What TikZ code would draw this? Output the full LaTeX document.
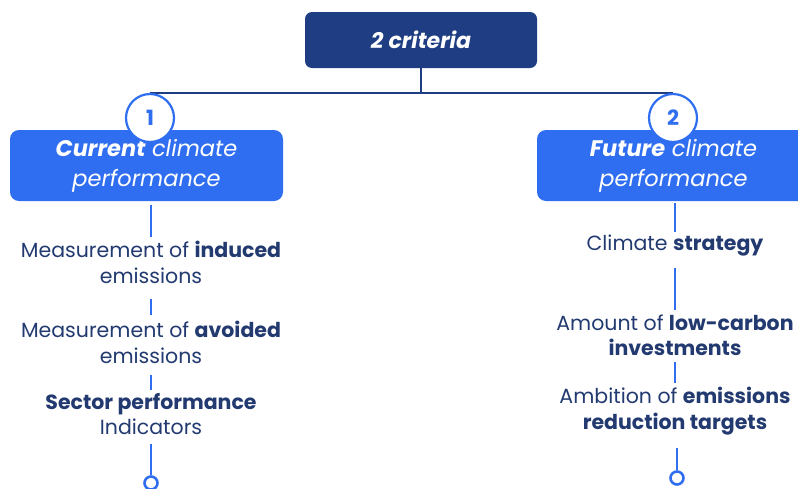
\documentclass[tikz,border=0pt]{standalone}
\usepackage{fontspec}
\setmainfont{Poppins}
\definecolor{navy}{HTML}{1E3D82}
\definecolor{txt}{HTML}{223A70}
\definecolor{bright}{HTML}{2F6EF0}
\tikzset{
  topbox/.style={fill=navy, rounded corners=7pt, minimum width=232pt, minimum height=56pt, text=white, font=\fontsize{22}{26}\selectfont\bfseries\itshape},
  catbox/.style={fill=bright, rounded corners=9pt, minimum width=273pt, minimum height=71pt, text=white, align=center, font=\fontsize{22.5}{30}\selectfont\itshape},
  numcirc/.style={circle, draw=bright, line width=2.2pt, fill=white, minimum size=48pt, inner sep=0pt, text=bright, font=\fontsize{21}{24}\selectfont\bfseries},
  item/.style={align=center, text=txt, inner sep=0pt, font=\fontsize{20.5}{25.5}\selectfont},
  vline/.style={draw=bright, line width=2.6pt},
  hline/.style={draw=navy, line width=2.6pt},
  endcirc/.style={circle, draw=bright, line width=2.6pt, fill=white, minimum size=13pt, inner sep=0pt}
}
\begin{document}
\begin{tikzpicture}[x=1pt,y=-1pt]
\useasboundingbox (0,0) rectangle (798,488);
\begin{scope}
\clip (0,0) rectangle (798,488);
% top
\node[topbox] (top) at (421,40) {2 criteria};
\coordinate (hl) at (150,93);
\coordinate (hr) at (673,93);
\draw[hline] (top.south) -- (top.south |- hl);
\draw[hline] (hl) -- (hr);
% category boxes
\node[catbox] (cur) at (146.5,165.5) {\textbf{Current} climate\\performance};
\node[catbox] (fut) at (673.5,165.5) {\textbf{Future} climate\\performance};
\node[numcirc] (n1) at (150,118) {1};
\node[numcirc] (n2) at (673,118) {2};
% left items
\node[item] (l1) at (151,262.5) {Measurement of \textbf{induced}\\emissions};
\node[item] (l2) at (151,342.5) {Measurement of \textbf{avoided}\\emissions};
\node[item] (l3) at (151,414) {\textbf{Sector performance}\\Indicators};
\node[endcirc] (le) at (151,483) {};
% right items
\node[item] (r1) at (675,246) {Climate \textbf{strategy}};
\node[item] (r2) at (675,335) {Amount of \textbf{low-carbon}\\\textbf{investments}};
\node[item] (r3) at (675,411) {Ambition of \textbf{emissions}\\\textbf{reduction targets}};
\node[endcirc] (re) at (677,478) {};
% left connectors
\draw[vline, shorten <=4pt, shorten >=4pt] (cur.south -| l1) -- (l1.north);
\draw[vline, shorten <=15pt, shorten >=6pt] (l1.south) -- (l2.north);
\draw[vline, shorten <=11pt, shorten >=3pt] (l2.south) -- (l3.north);
\draw[vline, shorten <=9pt] (l3.south) -- (le.north);
% right connectors
\draw[vline, shorten <=2pt, shorten >=3pt] (fut.south -| r1) -- (r1.north);
\draw[vline, shorten <=11pt, shorten >=4pt] (r1.south) -- (r2.north);
\draw[vline, shorten <=6pt, shorten >=4pt] (r2.south) -- (r3.north);
\draw[vline, shorten <=13pt] (r3.south -| re) -- (re.north);
\end{scope}
\end{tikzpicture}
\end{document}
